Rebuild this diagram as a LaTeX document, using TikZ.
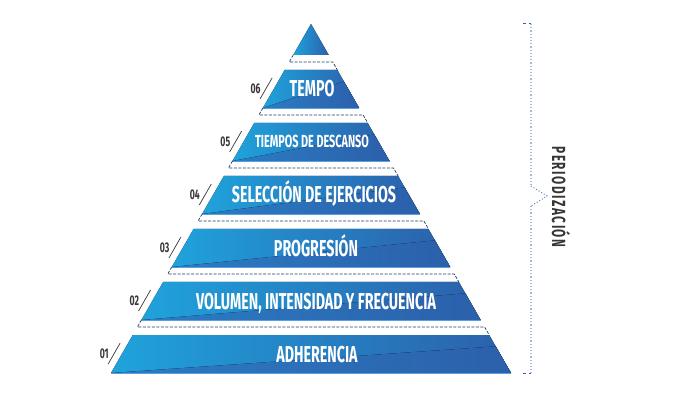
\documentclass[tikz,border=0pt]{standalone}
\usepackage{fontspec}
\newfontfamily\bebas[FakeStretch=0.62]{Fira Sans}
\newfontfamily\bebaswide[FakeStretch=0.62,LetterSpace=8]{Fira Sans}
\usetikzlibrary{calc}
\definecolor{cyanb}{HTML}{1FA3DC}
\definecolor{darkb}{HTML}{2C60AB}
\definecolor{midb}{HTML}{2A7DC4}
\definecolor{edgeb}{HTML}{5AA0DC}
\definecolor{navy}{HTML}{1F3864}
\definecolor{bracel}{HTML}{A9BADB}
\definecolor{braced}{HTML}{2D62B0}
\definecolor{numgray}{HTML}{3A3535}

\begin{document}
\begin{tikzpicture}[x=1pt,y=-1pt,
  tier/.style={left color=cyanb,middle color=darkb!80!cyanb,right color=darkb},
  shine/.style={left color=midb,middle color=cyanb,right color=darkb},
  lbl/.style={text=white,font=\bebas\bfseries\fontsize{23}{23}\selectfont,inner sep=0pt,anchor=base},
  num/.style={text=numgray,font=\bebas\bfseries\fontsize{14}{14}\selectfont,inner sep=0pt,anchor=base east},
  sep/.style={navy,line width=0.7pt,dash pattern=on 3pt off 1.5pt},
  slash/.style={numgray,line width=0.7pt}]
\useasboundingbox (0,0) rectangle (674,406);
\coordinate (apex) at (311,24);
\coordinate (bl) at (111,373);
\coordinate (br) at (511,373);
% top
\fill[tier] (apex) -- ($(apex)!0.0888!(br)$) -- ($(apex)!0.0888!(bl)$) -- cycle;
% tiers
\foreach \k in {0,...,5}{
  \pgfmathsetmacro\ta{(46+53*\k)/349}
  \pgfmathsetmacro\tb{(84+53*\k)/349}
  \coordinate (A) at ($(apex)!\ta!(bl)$);
  \coordinate (B) at ($(apex)!\ta!(br)$);
  \coordinate (C) at ($(apex)!\tb!(br)$);
  \coordinate (D) at ($(apex)!\tb!(bl)$);
  \fill[tier] (A) -- (B) -- (C) -- (D) -- cycle;
  \fill[shine] (D) -- (C) -- ($(B)!0.3!(C)$) -- cycle;
  \draw[edgeb,line width=0.8pt] (D) -- (C);
}
% separators
\foreach \k in {0,...,5}{
  \pgfmathsetmacro\ta{(31+53*\k)/349}
  \pgfmathsetmacro\tm{(38+53*\k)/349}
  \pgfmathsetmacro\tb{(46+53*\k)/349}
  \draw[sep] ($(apex)!\ta!(bl)$) -- ($(apex)!\tm!(bl)$) -- ($(apex)!\tm!(br)$) -- ($(apex)!\tb!(br)$);
}
% numbers
\foreach \k/\n in {0/06,1/05,2/04,3/03,4/02,5/01}{
  \pgfmathsetmacro\ta{(54+53*\k)/349}
  \pgfmathsetmacro\tm{(65+53*\k)/349}
  \pgfmathsetmacro\tb{(75+53*\k)/349}
  \coordinate (s\n) at ($(apex)!\ta!(bl)+(-8,0)$);
  \coordinate (e\n) at ($(apex)!\tb!(bl)+(-8,0)$);
  \draw[slash] (s\n) -- (e\n);
  \node[num] (n\n) at ($(apex)!\tm!(bl)+(-13,4.8)$) {\n};
}
\node[lbl] (tempo) at (312,97) {TEMPO};
\node[lbl,font=\bebas\bfseries\fontsize{17.5}{17.5}\selectfont] (descanso) at (312,148) {TIEMPOS DE DESCANSO};
\node[lbl] (seleccion) at (314,203) {SELECCIÓN DE EJERCICIOS};
\node[lbl] (progresion) at (316,256) {PROGRESIÓN};
\node[lbl] (volumen) at (316,309) {VOLUMEN, INTENSIDAD Y FRECUENCIA};
\node[lbl] (adherencia) at (317,362) {ADHERENCIA};
% brace
\coordinate (bt) at (531,24);
\coordinate (bu) at (531,186);
\coordinate (tip) at (547,196);
\coordinate (bd) at (531,206);
\coordinate (bb) at (531,373);
\draw[braced,line width=1pt,dashed] (523,24) -- (bt);
\draw[braced,line width=1pt,dashed] (523,373) -- (bb);
\draw[bracel,line width=1.2pt,dotted] (bt) -- (bu);
\draw[bracel,line width=1.2pt,dotted] (bd) -- (bb);
\draw[braced!80,line width=1pt,dotted] (bu) -- (tip) -- (bd);
\node[text=numgray,font=\bebaswide\bfseries\fontsize{19}{19}\selectfont,rotate=-90,anchor=base,inner sep=0pt] (period) at (552,197) {PERIODIZACIÓN};
\end{tikzpicture}
\end{document}
